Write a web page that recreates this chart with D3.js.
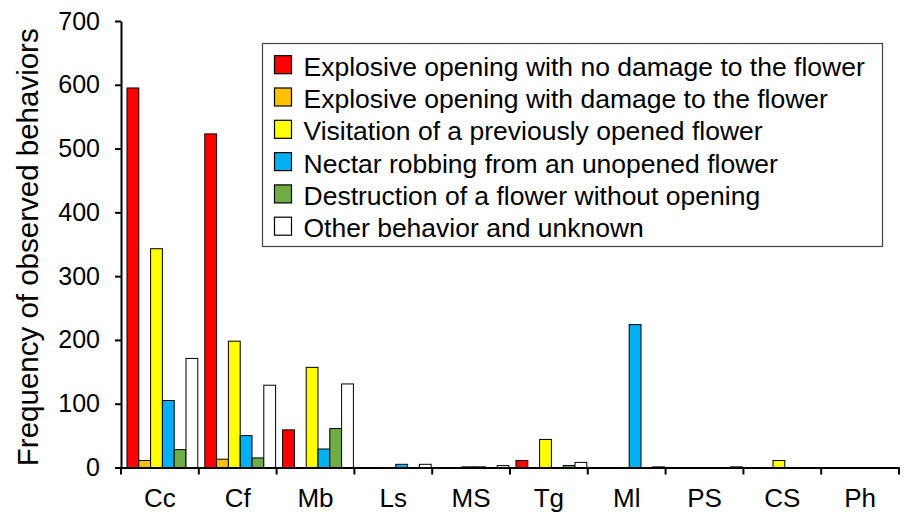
<!DOCTYPE html>
<html>
<head>
<meta charset="utf-8">
<script src="https://cdn.jsdelivr.net/npm/d3@7"></script>
<style>
  body { margin: 0; background: #fff; }
  svg { font-family: "Liberation Sans", Arial, sans-serif; }
</style>
</head>
<body>
<div id="chart"></div>
<script>
// categories (x axis)
const species = ["Cc", "Cf", "Mb", "Ls", "MS", "Tg", "Ml", "PS", "CS", "Ph"];

// behaviour series, one value per species
const behaviors = [
  "Explosive opening with no damage to the flower",
  "Explosive opening with damage to the flower",
  "Visitation of a previously opened flower",
  "Nectar robbing from an unopened flower",
  "Destruction of a flower without opening",
  "Other behavior and unknown"
];
const noDamage   = [595, 523, 59, 0, 0, 11, 0, 0, 0, 0];
const withDamage = [11, 13, 0, 0, 0, 0, 0, 0, 0, 0];
const visitation = [343, 198, 157, 0, 1, 44, 0, 0, 11, 0];
const robbing    = [105, 50, 29, 5, 1, 0, 224, 0, 0, 0];
const destroyed  = [28, 15, 61, 0, 0, 3, 0, 0, 0, 0];
const other      = [171, 129, 131, 5, 3, 8, 1, 1, 0, 0];
const yTicks = [0, 100, 200, 300, 400, 500, 600, 700];

const colors = ["#ff0000", "#ffc000", "#ffff00", "#00b0f0", "#70ad47", "#ffffff"];
const series = [noDamage, withDamage, visitation, robbing, destroyed, other];

const width = 906, height = 512,
    margin = ({top: 21, right: 7, bottom: 44.5, left: 121});

const svg = d3.select("#chart")
    .append("svg")
    .attr("width", width)
    .attr("height", height);

let x = d3.scaleBand()
    .domain(species)
    .range([margin.left, width - margin.right]);

let xs = d3.scaleBand()
    .domain(d3.range(behaviors.length))
    .range([6, x.bandwidth() - 1])
    .padding(0);

let y = d3.scaleLinear()
    .domain([0, 700])
    .range([height - margin.bottom, margin.top]);

// bars
let group = svg.selectAll(".grp")
    .data(species)
    .join("g")
    .attr("class", "grp")
    .attr("transform", d => `translate(${x(d)},0)`);

group.selectAll("rect")
    .data((d, i) => series.map((s, k) => ({k: k, v: s[i]})))
    .join("rect")
    .filter(d => d.v > 0)
    .attr("x", d => xs(d.k))
    .attr("width", xs.bandwidth())
    .attr("y", d => y(d.v))
    .attr("height", d => y(0) - y(d.v))
    .attr("fill", d => colors[d.k])
    .attr("stroke", "#000")
    .attr("stroke-width", 1);

// y axis
const yAxis = g => g
    .attr("transform", `translate(${margin.left},0)`)
    .call(d3.axisLeft(y).tickValues(yTicks).tickSize(6).tickSizeOuter(0).tickPadding(15));

svg.append("g")
    .call(yAxis)
    .call(g => g.select(".domain").attr("stroke-width", 2))
    .call(g => g.selectAll(".tick line").attr("stroke-width", 2))
    .call(g => g.selectAll(".tick text").attr("font-size", 25).attr("fill", "#000")
        .attr("font-family", "Liberation Sans, Arial, sans-serif"));

// x axis: ticks at band boundaries
const xAxis = g => g
    .attr("transform", `translate(0,${height - margin.bottom})`)
    .call(d3.axisBottom(x).tickSize(0).tickSizeOuter(0));

let xg = svg.append("g")
    .call(xAxis)
    .call(g => g.select(".domain").attr("stroke-width", 2))
    .call(g => g.selectAll(".tick text").attr("font-size", 26).attr("fill", "#000")
        .attr("dy", null).attr("y", 39.5)
        .attr("font-family", "Liberation Sans, Arial, sans-serif"));

xg.selectAll(".sep")
    .data(species.concat(["end"]))
    .join("line")
    .attr("x1", (d, i) => margin.left + i * x.step())
    .attr("x2", (d, i) => margin.left + i * x.step())
    .attr("y1", 0)
    .attr("y2", 7)
    .attr("stroke", "#000")
    .attr("stroke-width", 2);

// axis title
svg.append("text")
    .attr("transform", `translate(38,${(y(0) + y(700)) / 2 + 3}) rotate(-90)`)
    .attr("text-anchor", "middle")
    .attr("font-size", 29.5)
    .attr("fill", "#000")
    .text("Frequency of observed behaviors");

// legend
let legend = svg.append("g");
legend.append("rect")
    .attr("x", 262.5)
    .attr("y", 43.5)
    .attr("width", 620)
    .attr("height", 203)
    .attr("fill", "#fff")
    .attr("stroke", "#444")
    .attr("stroke-width", 1.2);

let item = legend.selectAll(".item")
    .data(behaviors)
    .join("g")
    .attr("class", "item")
    .attr("transform", (d, i) => `translate(274,${75.7 + i * 32.3})`);

item.append("rect")
    .attr("x", 0.5)
    .attr("y", -20)
    .attr("width", 17)
    .attr("height", 18)
    .attr("fill", (d, i) => colors[i])
    .attr("stroke", "#000")
    .attr("stroke-width", 1.2);

item.append("text")
    .attr("x", 29.5)
    .attr("y", 0)
    .attr("font-size", 26.5)
    .attr("fill", "#000")
    .text(d => d);
</script>
</body>
</html>
